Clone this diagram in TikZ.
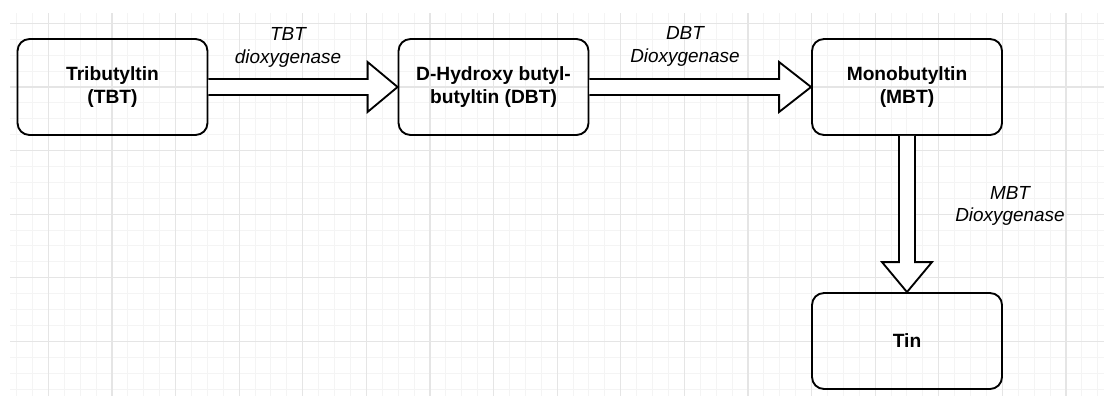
\documentclass[tikz,border=0pt]{standalone}
\usepackage{fontspec}
\setmainfont{Liberation Sans}
\usetikzlibrary{calc}

\begin{document}
\begin{tikzpicture}[x=0.75pt,y=-0.75pt,
	minorline/.style={draw=gray!9,line width=0.75pt},
	majorline/.style={draw=gray!20,line width=0.9pt},
	stagebox/.style={draw,line width=1.4pt,rounded corners=9pt,minimum width=142.5pt,minimum height=72pt,inner sep=0pt,align=center,font=\fontsize{14.4}{17}\selectfont\bfseries},
	enzyme/.style={align=center,inner sep=0pt,font=\fontsize{14.2}{17}\selectfont\itshape},
	fatarrow/.style={draw,line width=1.4pt,fill=white,line join=miter}]
	\useasboundingbox (0,0) rectangle (1104,396);
	
	% grid
	\begin{scope}
		\clip (10,13) rectangle (1104,396);
		\foreach \i in {1,...,69} \draw[minorline] ({0.6+15.9*\i},13) -- ({0.6+15.9*\i},396);
		\foreach \j in {1,...,24} \draw[minorline] (10,{7.4+15.9*\j}) -- (1104,{7.4+15.9*\j});
		\foreach \i in {0,...,16} \draw[majorline] ({48.3+63.6*\i},13) -- ({48.3+63.6*\i},396);
		\foreach \j in {0,...,5} \draw[majorline] (10,{23.3+63.6*\j}) -- (1104,{23.3+63.6*\j});
	\end{scope}
	
	\node[stagebox] (1) at (112.5,87) {Tributyltin\\(TBT)};
	\node[stagebox] (2) at (493.5,87) {D-Hydroxy butyl-\\butyltin (DBT)};
	\node[stagebox] (3) at (907,87) {Monobutyltin\\(MBT)};
	\node[stagebox] (4) at (907,341) {Tin};
	
	\node[enzyme] (5) at (288,47.5) {TBT\\dioxygenase};
	\node[enzyme] (6) at (685,46.5) {DBT\\Dioxygenase};
	\node[enzyme] (7) at (1010,206) {MBT\\Dioxygenase};
	
	\draw[fatarrow] ($(1.east)+(0,-8)$) -- ($(2.west)+(-30,-8)$) -- ($(2.west)+(-30,-25)$) -- (2.west)
		-- ($(2.west)+(-30,25)$) -- ($(2.west)+(-30,8)$) -- ($(1.east)+(0,8)$);
	\draw[fatarrow] ($(2.east)+(0,-8)$) -- ($(3.west)+(-32,-8)$) -- ($(3.west)+(-32,-25)$) -- (3.west)
		-- ($(3.west)+(-32,25)$) -- ($(3.west)+(-32,8)$) -- ($(2.east)+(0,8)$);
	\draw[fatarrow] ($(3.south)+(-8,0)$) -- ($(4.north)+(-8,-30)$) -- ($(4.north)+(-25,-30)$) -- (4.north)
		-- ($(4.north)+(25,-30)$) -- ($(4.north)+(8,-30)$) -- ($(3.south)+(8,0)$);
\end{tikzpicture}
\end{document}
